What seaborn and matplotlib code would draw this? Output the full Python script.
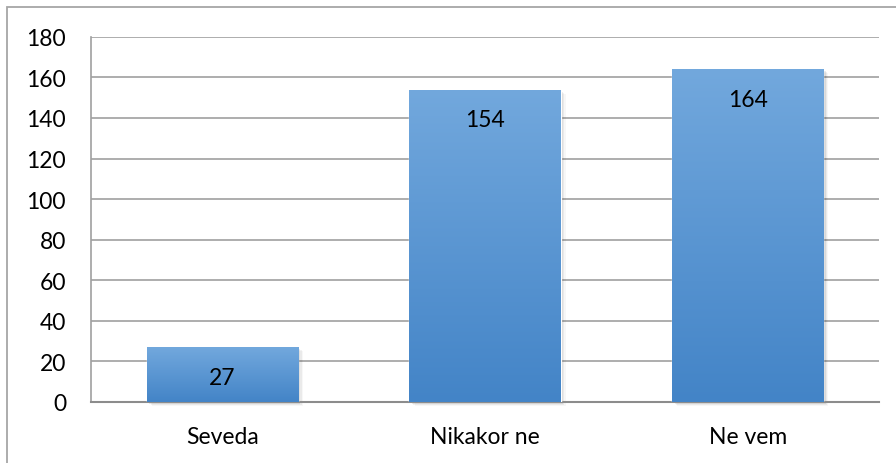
import numpy as np
import pandas as pd
import matplotlib
matplotlib.use("Agg")
import matplotlib.pyplot as plt
from matplotlib.patches import Rectangle
from matplotlib.colors import LinearSegmentedColormap
import seaborn as sns

categories = ["Seveda", "Nikakor ne", "Ne vem"]
values = [27, 154, 164]
yticks = [0, 20, 40, 60, 80, 100, 120, 140, 160, 180]

df = pd.DataFrame({"odgovor": categories, "stevilo": values})

sns.set_style("white")
plt.rcParams["font.family"] = ["Lato", "DejaVu Sans"]

fig = plt.figure(figsize=(8.96, 4.64), dpi=100)
ax = fig.add_axes([0.1016, 0.1315, 0.8794, 0.787])

sns.barplot(data=df, x="odgovor", y="stevilo", width=0.575,
            color="#5b9bd5", ax=ax, zorder=3)

ax.set_ylim(0, 180)
ax.set_yticks(yticks)
ax.set_xlim(-0.5, len(categories) - 0.5)
ax.yaxis.grid(True, color="#a0a0a0", linewidth=1.2, zorder=0)
ax.set_axisbelow(True)
for s in ["top", "right"]:
    ax.spines[s].set_visible(False)
ax.spines["left"].set_color("#a0a0a0")
ax.spines["bottom"].set_color("#8c8c8c")
ax.spines["left"].set_linewidth(1.2)
ax.spines["bottom"].set_linewidth(1.5)
ax.tick_params(axis="both", length=0, labelsize=16.5, colors="black")
ax.tick_params(axis="y", pad=18)
ax.tick_params(axis="x", pad=17)
ax.set_xlabel("")
ax.set_ylabel("")

# gradient fill + soft shadow for each bar
cmap = LinearSegmentedColormap.from_list("g", ["#4384c7", "#72a8dd"])
grad = np.linspace(0, 1, 256).reshape(-1, 1)
for patch, v in zip(ax.patches, values):
    x0, w, h = patch.get_x(), patch.get_width(), patch.get_height()
    for i, a in enumerate([0.12, 0.08, 0.05, 0.03]):
        off = 0.005 * (i + 1)
        ax.add_patch(Rectangle((x0 + off, -0.5 * (i + 1)), w, h,
                               facecolor="black", alpha=a, edgecolor="none",
                               zorder=2, clip_on=False))
    im = ax.imshow(grad, extent=[x0, x0 + w, 0, h], origin="lower",
                   cmap=cmap, aspect="auto", zorder=4)
    im.set_clip_path(patch)
    ax.text(x0 + w / 2, h - 15, str(v), ha="center", va="center",
            fontsize=16.5, color="black", zorder=5)

ax.set_xlim(-0.5, len(categories) - 0.5)
ax.set_ylim(0, 180)

# outer chart border (top and left visible)
fig.patches.append(Rectangle((7 / 896, -0.1), 1.2, 1 - 8 / 464 + 0.1,
                             transform=fig.transFigure, fill=False,
                             edgecolor="#a6a6a6", linewidth=1.3))

fig.savefig("out.png", dpi=100)
